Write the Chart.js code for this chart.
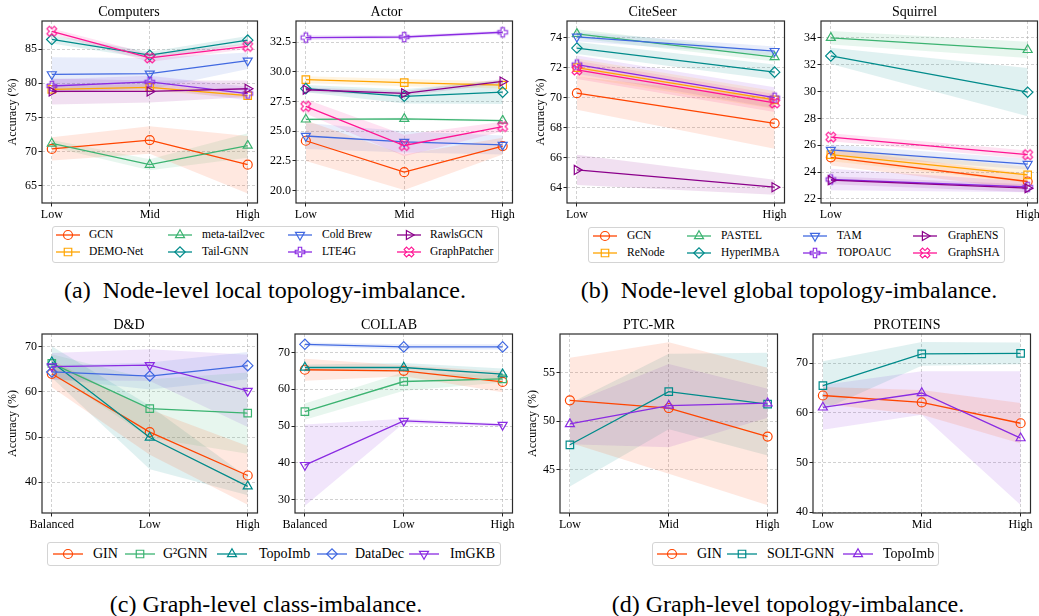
<!DOCTYPE html>
<html>
<head>
<meta charset="utf-8">
<script src="https://cdn.jsdelivr.net/npm/chart.js@4.4.1/dist/chart.umd.min.js"></script>
<style>
  body { margin: 0; width: 1039px; height: 616px; position: relative; overflow: hidden; background: #fff;
         font-family: 'Liberation Serif', 'Times New Roman', serif; color: #000; }
  canvas { position: absolute; }
  .legend { position: absolute; border: 1px solid #d4d4d4; border-radius: 3px; background: #fff; box-sizing: border-box; }
  .entry { position: absolute; white-space: nowrap; }
  .caption { position: absolute; font-size: 24px; line-height: 24px; white-space: nowrap; transform: translateX(-50%); }
</style>
</head>
<body>
<script>
const FONT = "'Liberation Serif', 'Times New Roman', serif";

// x categories
const levelsLMH = ['Low', 'Mid', 'High'];
const levelsLH = ['Low', 'High'];
const levelsBLH = ['Balanced', 'Low', 'High'];

// methods (legend order, column-major)
const nodeLocalMethods = ['GCN', 'DEMO-Net', 'meta-tail2vec', 'Tail-GNN', 'Cold Brew', 'LTE4G', 'RawlsGCN', 'GraphPatcher'];
const nodeGlobalMethods = ['GCN', 'ReNode', 'PASTEL', 'HyperIMBA', 'TAM', 'TOPOAUC', 'GraphENS', 'GraphSHA'];
const graphClassMethods = ['GIN', 'G²GNN', 'TopoImb', 'DataDec', 'ImGKB'];
const graphTopoMethods = ['GIN', 'SOLT-GNN', 'TopoImb'];

// y tick labels
const computersTicks = [65, 70, 75, 80, 85];
const actorTicks = [20, 22.5, 25, 27.5, 30, 32.5];
const citeseerTicks = [64, 66, 68, 70, 72, 74];
const squirrelTicks = [22, 24, 26, 28, 30, 32, 34];
const ddTicks = [40, 50, 60, 70];
const collabTicks = [30, 40, 50, 60, 70];
const ptcTicks = [45, 50, 55];
const proteinsTicks = [40, 50, 60, 70];

// accuracy mean / std, one row per method
const computersMean = [
  [70.4, 71.7, 68.1], [79.1, 79.4, 78.2], [71.2, 68.1, 70.9], [86.4, 84.1, 86.3],
  [81.3, 81.4, 83.3], [79.6, 80.2, 78.5], [78.8, 78.8, 79.2], [87.6, 83.7, 85.4]
];
const computersStd = [
  [1.7, 2.0, 4.2], [0.5, 0.5, 0.4], [0.5, 0.8, 1.8], [0.6, 0.5, 0.6],
  [2.5, 2.3, 1.2], [1.0, 0.9, 1.0], [1.9, 1.6, 1.2], [0.4, 0.6, 0.4]
];
const actorMean = [
  [24.2, 21.55, 23.75], [29.35, 29.1, 28.9], [26.0, 26.05, 25.9], [28.6, 27.95, 28.3],
  [24.6, 24.1, 23.85], [32.9, 32.95, 33.35], [28.5, 28.2, 29.2], [27.1, 23.8, 25.4]
];
const actorStd = [
  [1.7, 1.5, 0.7], [0.3, 0.3, 0.3], [0.1, 0.1, 0.1], [0.3, 0.6, 1.0],
  [1.1, 0.9, 0.8], [0.2, 0.15, 0.15], [0.2, 0.2, 0.2], [0.6, 0.9, 0.4]
];
const citeseerMean = [
  [70.3, 68.3], [72.0, 69.85], [74.25, 72.7], [73.3, 71.7],
  [74.05, 73.1], [72.2, 70.0], [65.2, 64.05], [71.85, 69.65]
];
const citeseerStd = [
  [1.1, 1.7], [0.6, 0.6], [0.3, 0.3], [0.4, 0.5],
  [0.3, 0.3], [0.6, 0.7], [1.0, 0.5], [0.6, 0.6]
];
const squirrelMean = [
  [25.1, 23.3], [25.3, 23.8], [34.0, 33.1], [32.65, 29.95],
  [25.65, 24.6], [23.45, 22.9], [23.4, 22.8], [26.6, 25.3]
];
const squirrelStd = [
  [0.6, 0.6], [0.5, 0.6], [0.5, 0.6], [0.6, 1.8],
  [0.4, 0.4], [0.8, 0.4], [0.3, 0.3], [0.3, 0.3]
];
const ddMean = [
  [64.0, 51.1, 41.5], [66.3, 56.3, 55.3], [66.6, 49.9, 39.1], [64.4, 63.5, 65.8], [65.6, 65.9, 60.2]
];
const ddStd = [
  [3.0, 5.0, 6.5], [2.0, 6.5, 9.0], [3.5, 7.0, 2.0], [1.5, 3.0, 3.0], [3.0, 3.5, 8.0]
];
const collabMean = [
  [65.3, 65.0, 62.0], [53.9, 62.1, 62.8], [65.9, 65.9, 64.1], [72.2, 71.5, 71.5], [39.4, 51.4, 50.3]
];
const collabStd = [
  [3.0, 1.5, 2.8], [2.2, 2.5, 1.0], [0.8, 1.2, 1.5], [0.5, 0.7, 0.7], [11.0, 0.6, 0.4]
];
const ptcMean = [
  [52.15, 51.35, 48.4], [47.55, 53.05, 51.75], [49.7, 51.6, 51.85]
];
const ptcStd = [
  [4.4, 6.8, 7.1], [4.3, 3.9, 5.3], [2.1, 4.3, 1.5]
];
const proteinsMean = [
  [63.5, 62.1, 57.9], [65.5, 71.9, 72.0], [61.1, 64.0, 54.9]
];
const proteinsStd = [
  [1.7, 2.5, 4.1], [4.9, 2.4, 2.2], [4.5, 4.4, 13.5]
];

// series colours and markers
const COL = { red: '#FF4500', orange: '#FFA500', green: '#3CB371', teal: '#008B8B',
              blue: '#4169E1', violet: '#8A2BE2', magenta: '#8B008B', pink: '#FF1493' };
const nodeStyles = [
  { color: COL.red, marker: 'circle' }, { color: COL.orange, marker: 'rect' },
  { color: COL.green, marker: 'triangle' }, { color: COL.teal, marker: 'rectRot' },
  { color: COL.blue, marker: 'triangle', rot: 180 }, { color: COL.violet, marker: 'plus' },
  { color: COL.magenta, marker: 'triangle', rot: 90 }, { color: COL.pink, marker: 'x' }
];
const classStyles = [
  { color: COL.red, marker: 'circle' }, { color: COL.green, marker: 'rect' },
  { color: COL.teal, marker: 'triangle' }, { color: COL.blue, marker: 'rectRot' },
  { color: COL.violet, marker: 'triangle', rot: 180 }
];
const topoStyles = [
  { color: COL.red, marker: 'circle' }, { color: COL.teal, marker: 'rect' },
  { color: COL.violet, marker: 'triangle' }
];

function tint(hex, a) {
  const n = parseInt(hex.slice(1), 16);
  return `rgba(${n >> 16},${(n >> 8) & 255},${n & 255},${a})`;
}

// hollow "P" and "X" markers as small canvases
const markerCache = {};
function customMarker(kind, color) {
  const key = kind + color;
  if (markerCache[key]) return markerCache[key];
  const c = document.createElement('canvas');
  c.width = 14; c.height = 14;
  const g = c.getContext('2d');
  const s = kind === 'x' ? 5.2 : 4.8, w = 1.7;
  const pts = [[-w,-s],[w,-s],[w,-w],[s,-w],[s,w],[w,w],[w,s],[-w,s],[-w,w],[-s,w],[-s,-w],[-w,-w]];
  g.translate(7, 7);
  if (kind === 'x') g.rotate(Math.PI / 4);
  g.beginPath();
  pts.forEach(([x, y], i) => i ? g.lineTo(x, y) : g.moveTo(x, y));
  g.closePath();
  g.strokeStyle = color; g.lineWidth = 1.1; g.stroke();
  markerCache[key] = c;
  return c;
}
function markerFor(st) {
  return (st.marker === 'plus' || st.marker === 'x') ? customMarker(st.marker, st.color) : st.marker;
}
function radiusFor(st) {
  return { circle: 4.5, rect: 5.3, triangle: 5.2, rectRot: 5.2 }[st.marker] || 5;
}

// matplotlib-like frame around the plot area
const frame = {
  id: 'frame',
  afterDraw(chart) {
    const { ctx, chartArea: a } = chart;
    ctx.save();
    ctx.strokeStyle = '#2b2b2b';
    ctx.lineWidth = 1.2;
    ctx.strokeRect(a.left, a.top, a.right - a.left, a.bottom - a.top);
    ctx.restore();
  }
};

const gridOpts = { color: 'rgba(150,150,150,0.55)', lineWidth: 0.8, drawTicks: true, tickLength: 3.5,
                   tickColor: '#222', tickWidth: 1, tickBorderDash: [] };
const borderOpts = { display: false, dash: [3, 2] };

function panel(cfg) {
  const [l, t, r, b] = cfg.box;
  const padR = 6, top = 22, bottom = 20;
  const W = cfg.yw + (r - l) + padR, H = top + (b - t) + bottom;
  const cv = document.createElement('canvas');
  cv.width = W; cv.height = H;
  cv.style.left = (l - cfg.yw) + 'px';
  cv.style.top = (t - top) + 'px';
  document.body.appendChild(cv);

  const n = cfg.cats.length, m = 0.05 * (n - 1);
  const datasets = [];
  cfg.mean.forEach((row, i) => {
    const st = cfg.styles[i], sd = cfg.std[i];
    const pts = k => row.map((v, j) => ({ x: j, y: v + k * sd[j] }));
    datasets.push({ data: pts(1), borderColor: 'rgba(0,0,0,0)', borderWidth: 0, pointRadius: 0, fill: false, order: 1000 });
    datasets.push({ data: pts(-1), borderColor: 'rgba(0,0,0,0)', borderWidth: 0, pointRadius: 0,
                    fill: '-1', backgroundColor: tint(st.color, 0.12), order: 1000 });
    datasets.push({ label: cfg.names[i], data: pts(0), borderColor: st.color, borderWidth: 1.3, fill: false,
                    pointStyle: markerFor(st), pointRotation: st.rot || 0, pointRadius: radiusFor(st),
                    pointBorderWidth: 1.2, pointBorderColor: st.color, pointBackgroundColor: 'rgba(0,0,0,0)',
                    order: cfg.mean.length - i });
  });

  new Chart(cv, {
    type: 'line',
    data: { datasets },
    options: {
      responsive: false, animation: false, devicePixelRatio: 1, events: [],
      layout: { padding: { right: padR } },
      plugins: {
        legend: { display: false }, tooltip: { enabled: false },
        title: { display: true, text: cfg.title, color: '#000',
                 font: { family: FONT, size: 14, weight: 'normal' }, padding: { top: 5, bottom: 0.2 } }
      },
      scales: {
        x: {
          type: 'linear', min: -m, max: n - 1 + m,
          afterBuildTicks: s => { s.ticks = cfg.cats.map((_, j) => ({ value: j })); },
          afterFit: s => { s.height = bottom; },
          ticks: { callback: v => cfg.cats[v], color: '#000', font: { family: FONT, size: 12 },
                   padding: 1, maxRotation: 0, autoSkip: false },
          grid: gridOpts, border: borderOpts
        },
        y: {
          type: 'linear', min: cfg.yMin, max: cfg.yMax,
          afterBuildTicks: s => { s.ticks = cfg.ticks.map(v => ({ value: v })); },
          afterFit: s => { s.width = cfg.yw; },
          ticks: { callback: v => cfg.decimals ? v.toFixed(cfg.decimals) : v, color: '#000',
                   font: { family: FONT, size: 12 }, padding: 1.5 },
          title: { display: !!cfg.yTitlePad, text: 'Accuracy (%)', color: '#000',
                   font: { family: FONT, size: 12 }, padding: { top: cfg.yTitlePad || 0, bottom: 0 } },
          grid: gridOpts, border: borderOpts
        }
      }
    },
    plugins: [frame]
  });
}

function drawMarker(g, st, x, y) {
  g.save();
  g.strokeStyle = st.color; g.fillStyle = 'rgba(0,0,0,0)'; g.lineWidth = 1.2;
  if (Chart.helpers && Chart.helpers.drawPoint) {
    Chart.helpers.drawPoint(g, { pointStyle: markerFor(st), rotation: st.rot || 0,
                                 radius: radiusFor(st), borderWidth: 1.2 }, x, y);
  } else {
    g.beginPath(); g.arc(x, y, 4.5, 0, Math.PI * 2); g.stroke();
  }
  g.restore();
}

function legend(cfg) {
  const [x0, y0, x1, y1] = cfg.box;
  const box = document.createElement('div');
  box.className = 'legend';
  box.style.cssText = `left:${x0}px;top:${y0}px;width:${x1 - x0}px;height:${y1 - y0}px`;
  document.body.appendChild(box);
  const rows = cfg.rows.length;
  cfg.names.forEach((name, i) => {
    const col = Math.floor(i / rows), y = cfg.rows[i % rows];
    const st = cfg.styles[i];
    const c = document.createElement('canvas');
    c.width = cfg.hlen; c.height = 16;
    c.style.left = cfg.hx[col] + 'px';
    c.style.top = (y - 8) + 'px';
    document.body.appendChild(c);
    const g = c.getContext('2d');
    g.strokeStyle = st.color; g.lineWidth = 1.3;
    g.beginPath(); g.moveTo(0, 8); g.lineTo(cfg.hlen, 8); g.stroke();
    drawMarker(g, st, cfg.hlen / 2, 8);
    const s = document.createElement('div');
    s.className = 'entry';
    s.textContent = name;
    s.style.cssText = `left:${cfg.tx[col]}px;top:${y - cfg.size * 0.6}px;font-size:${cfg.size}px;line-height:${cfg.size * 1.2}px`;
    document.body.appendChild(s);
  });
}

function caption(text, cx, cy) {
  const d = document.createElement('div');
  d.className = 'caption';
  d.textContent = text;
  d.style.left = cx + 'px';
  d.style.top = (cy - 12) + 'px';
  document.body.appendChild(d);
}

// (a) node-level local topology-imbalance
panel({ title: 'Computers', cats: levelsLMH, names: nodeLocalMethods, styles: nodeStyles,
        mean: computersMean, std: computersStd, ticks: computersTicks, yMin: 62.5, yMax: 89.1,
        box: [42, 21, 258, 203], yw: 42, yTitlePad: 5.8 });
panel({ title: 'Actor', cats: levelsLMH, names: nodeLocalMethods, styles: nodeStyles,
        mean: actorMean, std: actorStd, ticks: actorTicks, yMin: 18.95, yMax: 34.3, decimals: 1,
        box: [296, 21, 513, 203], yw: 36 });
// (b) node-level global topology-imbalance
panel({ title: 'CiteSeer', cats: levelsLH, names: nodeGlobalMethods, styles: nodeStyles,
        mean: citeseerMean, std: citeseerStd, ticks: citeseerTicks, yMin: 63.0, yMax: 75.1,
        box: [567, 21, 785, 203], yw: 47, yTitlePad: 13.8 });
panel({ title: 'Squirrel', cats: levelsLH, names: nodeGlobalMethods, styles: nodeStyles,
        mean: squirrelMean, std: squirrelStd, ticks: squirrelTicks, yMin: 21.7, yMax: 35.25,
        box: [821, 21, 1038, 203], yw: 30 });
// (c) graph-level class-imbalance
panel({ title: 'D&D', cats: levelsBLH, names: graphClassMethods, styles: classStyles,
        mean: ddMean, std: ddStd, ticks: ddTicks, yMin: 33.2, yMax: 72.8,
        box: [42, 334, 258, 513], yw: 42, yTitlePad: 5.8 });
panel({ title: 'COLLAB', cats: levelsBLH, names: graphClassMethods, styles: classStyles,
        mean: collabMean, std: collabStd, ticks: collabTicks, yMin: 26.4, yMax: 75.0,
        box: [295, 334, 513, 513], yw: 30 });
// (d) graph-level topology-imbalance
panel({ title: 'PTC-MR', cats: levelsLMH, names: graphTopoMethods, styles: topoStyles,
        mean: ptcMean, std: ptcStd, ticks: ptcTicks, yMin: 40.5, yMax: 59.0,
        box: [560, 334, 778, 513], yw: 40, yTitlePad: 5.8 });
panel({ title: 'PROTEINS', cats: levelsLMH, names: graphTopoMethods, styles: topoStyles,
        mean: proteinsMean, std: proteinsStd, ticks: proteinsTicks, yMin: 39.8, yMax: 75.9,
        box: [813, 334, 1031, 513], yw: 30 });

legend({ names: nodeLocalMethods, styles: nodeStyles, box: [52, 226, 499, 263], rows: [235, 252],
         hx: [56, 168, 288, 397], tx: [89, 202, 322, 430], hlen: 24, size: 11.5 });
legend({ names: nodeGlobalMethods, styles: nodeStyles, box: [588, 227, 1005, 263], rows: [235.5, 252.5],
         hx: [593, 687, 803, 913], tx: [627, 721, 837, 948], hlen: 24, size: 11.5 });
legend({ names: graphClassMethods, styles: classStyles, box: [47, 542, 501, 566], rows: [554],
         hx: [53, 125, 217, 317, 409], tx: [93, 163, 259, 355, 450], hlen: 30, size: 14 });
legend({ names: graphTopoMethods, styles: topoStyles, box: [652, 542, 939, 566], rows: [554],
         hx: [657, 727, 843], tx: [697, 767, 883], hlen: 30, size: 14 });

caption('(a)\u2002Node-level local topology-imbalance.', 265, 290);
caption('(b)\u2002Node-level global topology-imbalance.', 789, 290);
caption('(c) Graph-level class-imbalance.', 266, 604);
caption('(d) Graph-level topology-imbalance.', 788, 604);
</script>
</body>
</html>
